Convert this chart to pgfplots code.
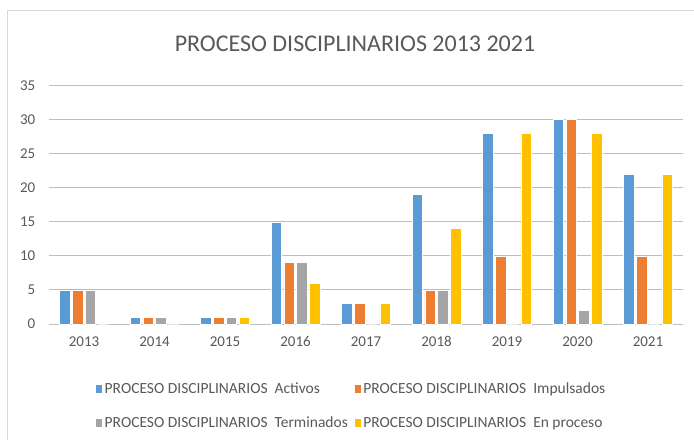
\documentclass[border=0pt]{standalone}
\usepackage{pgfplots}
\pgfplotsset{compat=1.18}
\usepackage{fontspec}
\setmainfont{Carlito}
\definecolor{cBlue}{HTML}{5B9BD5}
\definecolor{cOrange}{HTML}{ED7D31}
\definecolor{cGray}{HTML}{A5A5A5}
\definecolor{cYellow}{HTML}{FFC000}
\definecolor{txt}{HTML}{595959}
\definecolor{grid}{HTML}{D9D9D9}
\begin{document}
\begin{tikzpicture}[x=1pt,y=1pt]
\useasboundingbox (0,0) rectangle (694,440);
\fill[white] (0,0) rectangle (694,440);
\draw[grid,line width=1pt] (7,0) -- (7,429) -- (694,429);
\node[txt,font=\fontsize{24}{28}\selectfont] at (355,396) {PROCESO DISCIPLINARIOS 2013 2021};
\begin{axis}[
  at={(48.75pt,116pt)}, anchor=south west,
  width=634.5pt, height=238.3pt, scale only axis,
  xmin=-0.5, xmax=8.5, ymin=0, ymax=35,
  ybar=2.2pt, bar width=10.5pt,
  xtick={0,...,8}, xticklabels={2013,2014,2015,2016,2017,2018,2019,2020,2021},
  ytick={0,5,...,35},
  /pgf/number format/assume math mode=true,
  ymajorgrids, xmajorgrids=false, grid style={grid,line width=1pt},
  axis line style={draw=none},
  major tick length=0pt,
  tick label style={txt,font=\fontsize{15}{18}\selectfont},
  xticklabel style={yshift=-9pt},
  yticklabel style={xshift=-10pt},
  legend style={at={(0.0682,-0.229)}, anchor=north west, draw=none, fill=none,
    legend columns=2, font=\fontsize{15.5}{18}\selectfont, text=txt,
    /tikz/every even column/.append style={column sep=4pt},
    /tikz/row sep=18pt, legend cell align=left},
  legend image code/.code={\fill[#1] (0pt,-4pt) rectangle (7pt,5pt);},
]
\addplot[fill=cBlue, draw=white, line width=0.5pt] coordinates {(0,5) (1,1) (2,1) (3,15) (4,3) (5,19) (6,28) (7,30) (8,22)};
\addplot[fill=cOrange, draw=white, line width=0.5pt] coordinates {(0,5) (1,1) (2,1) (3,9) (4,3) (5,5) (6,10) (7,30) (8,10)};
\addplot[fill=cGray, draw=white, line width=0.5pt] coordinates {(0,5) (1,1) (2,1) (3,9) (4,0) (5,5) (6,0) (7,2) (8,0)};
\addplot[fill=cYellow, draw=white, line width=0.5pt] coordinates {(0,0) (1,0) (2,1) (3,6) (4,3) (5,14) (6,28) (7,28) (8,22)};
\legend{PROCESO DISCIPLINARIOS\ \ Activos, PROCESO DISCIPLINARIOS\ \ Impulsados, PROCESO DISCIPLINARIOS\ \ Terminados, PROCESO DISCIPLINARIOS\ \ En proceso}
\end{axis}
\end{tikzpicture}
\end{document}
